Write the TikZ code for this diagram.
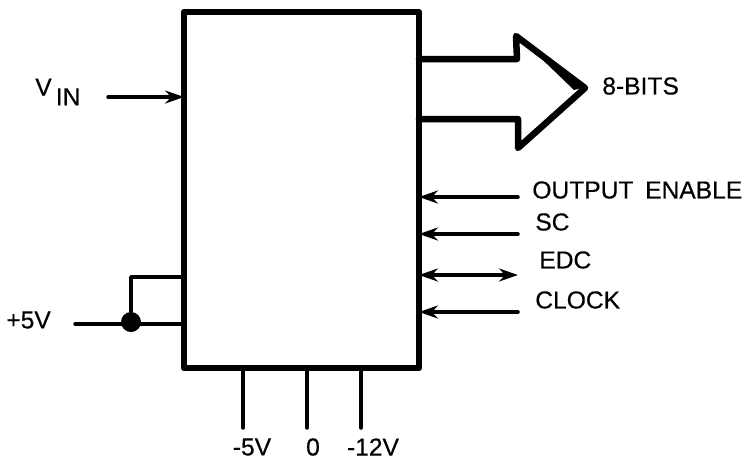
\documentclass[tikz,border=0pt]{standalone}
\usepackage{fontspec}
\setmainfont[FakeBold=0.4]{Liberation Sans}
\usetikzlibrary{arrows.meta}
\tikzset{
	pinlabel/.style={anchor=west, inner sep=0pt},
	pinwire/.style={line width=0.07cm},
	buswire/.style={line width=0.13cm},
}
\begin{document}
\begin{tikzpicture}[x=0.02cm, y=-0.02cm, font=\fontsize{14}{16}\selectfont, line join=round, line cap=round, >={Stealth[length=0.38cm, width=0.26cm]}]
	\useasboundingbox (0,0) rectangle (747,461);
	\node[draw, line width=0.13cm, minimum width=4.7cm, minimum height=7.12cm, outer sep=0pt] (block) at (301.5,190) {};
	% output bus
	\draw[buswire] (block.east |- 0,59) -- (517,59) -- (516,36) -- (585,88) -- (518,148) -- (518,119) -- (block.east |- 0,119);
	\fill (520,38) -- (585,87) -- (574,90) -- cycle;
	\node[pinlabel] (bits) at (602,86) {8-BITS};
	% control pins
	\foreach \y/\l/\n/\t/\x/\ly in {197/oe/OUTPUT\hspace{0.2em} ENABLE/<-/532/190, 234/sc/SC/<-/535/222, 275/edc/EDC/<->/539/260, 312/clk/CLOCK/<-/535/300}
	{
		\coordinate (\l) at (518,\y);
		\draw[pinwire, \t] (block.east |- \l) -- (\l);
		\node[pinlabel] (\l-text) at (\x,\ly) {\n};
	}
	% input
	\coordinate (vin) at (108,97);
	\draw[pinwire, ->] (vin) -- (block.west |- vin);
	\node[pinlabel] (vin-text) at (35,92) {V\raisebox{-0.75ex}{\,IN}};
	% supply
	\coordinate (plus) at (75,324);
	\node[circle, fill, inner sep=0pt, minimum size=0.4cm] (dot) at (131,322) {};
	\coordinate (top) at (131,277);
	\draw[pinwire] (plus) -- (block.west |- plus);
	\draw[pinwire] (dot) -- (top) -- (block.west |- top);
	\node[pinlabel] (plus-text) at (6,320) {+5V};
	% bottom pins
	\foreach \x/\l/\n/\lx in {243/mfive/-5V/252, 307/zero/0/313, 361/mtwelve/-12V/373}
	{
		\coordinate (\l) at (\x,428);
		\draw[pinwire] (block.south -| \l) -- (\l);
		\node[inner sep=0pt] (\l-text) at (\lx,447) {\n};
	}
\end{tikzpicture}
\end{document}
